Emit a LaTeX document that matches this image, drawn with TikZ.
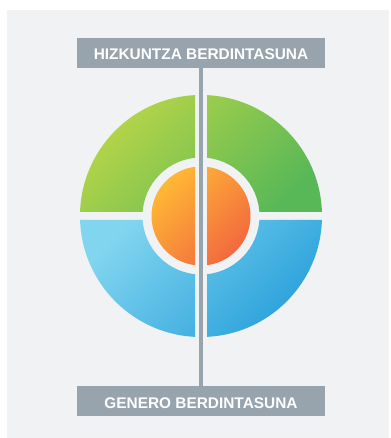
\documentclass[tikz,border=0pt]{standalone}
\usepackage{fontspec}
\setmainfont{Liberation Sans}
\usepackage{xcolor}
\usetikzlibrary{positioning}

\definecolor{panelgray}{HTML}{F0F2F4}
\definecolor{labelgray}{HTML}{98A4AD}
\definecolor{greenlight}{HTML}{B8D548}
\definecolor{greendark}{HTML}{58B857}
\definecolor{bluelight}{HTML}{82D5EF}
\definecolor{bluedark}{HTML}{2AA1DB}
\definecolor{orangelight}{HTML}{FFB835}
\definecolor{orangedark}{HTML}{F2693F}

\tikzset{
    labelbox/.style={fill=labelgray, text=white, font=\fontsize{15.4}{18}\selectfont\bfseries,
        minimum width=248pt, minimum height=30pt, inner sep=0pt, text height=14pt, text depth=0pt},
    greenfill/.style={top color=greenlight, bottom color=greendark, shading angle=45},
    bluefill/.style={top color=bluelight, bottom color=bluedark, shading angle=45},
    orangefill/.style={top color=orangelight, bottom color=orangedark, shading angle=45}
}

\begin{document}
\begin{tikzpicture}[x=1pt, y=1pt]
        \useasboundingbox (-201,216) rectangle (189,-222);
        \fill[panelgray] (-194,206) rectangle (188,-222); % background panel

        % upper ring, split in two
        \begin{scope}
            \clip (-130,4) rectangle (-6,130) (6,4) rectangle (130,130);
            \shade[greenfill] (0:121) arc[start angle=0, end angle=180, radius=121]
                -- (180:58.5) arc[start angle=180, end angle=0, radius=58.5] -- cycle;
        \end{scope}

        % lower ring, split in two
        \begin{scope}
            \clip (-130,-4) rectangle (-6,-130) (6,-4) rectangle (130,-130);
            \shade[bluefill] (0:121) arc[start angle=0, end angle=-180, radius=121]
                -- (180:58.5) arc[start angle=180, end angle=360, radius=58.5] -- cycle;
        \end{scope}

        % inner circle
        \begin{scope}
            \clip (-60,-60) rectangle (-6,60) (6,-60) rectangle (60,60);
            \shade[orangefill] (0,0) circle[radius=49.5];
        \end{scope}

        \node[labelbox] (hizkuntza) at (0,163) {HIZKUNTZA BERDINTASUNA}; % top label
        \node[labelbox] (genero) at (0,-185) {GENERO BERDINTASUNA}; % bottom label

        \draw[labelgray, line width=4pt] (hizkuntza.south) -- (genero.north); % axis line
    \end{tikzpicture}
\end{document}
